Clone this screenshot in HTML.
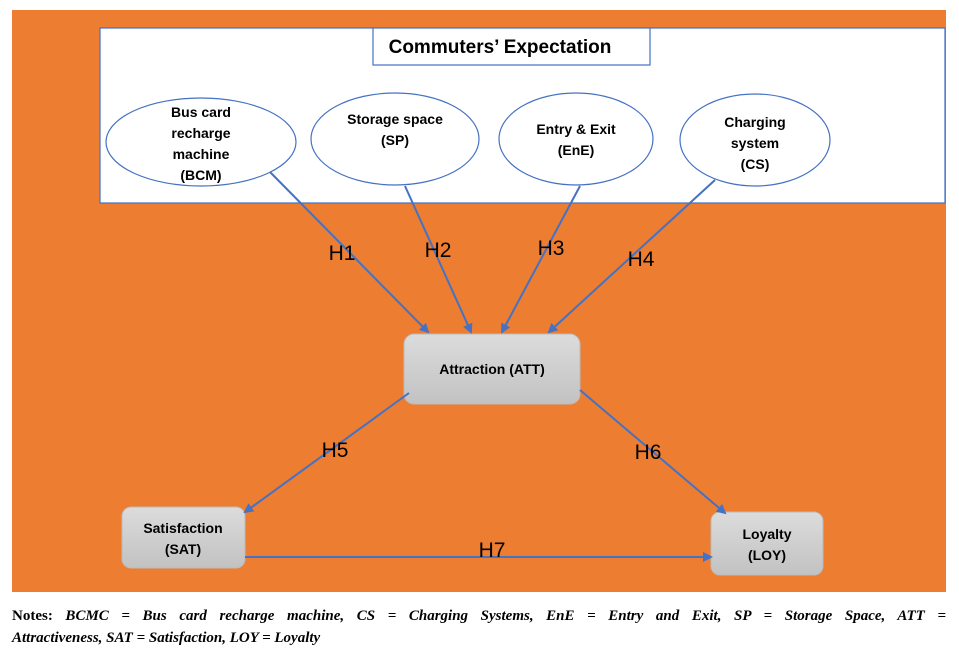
<!DOCTYPE html>
<html><head><style>
body{margin:0;width:959px;height:656px;background:#fff;position:relative;overflow:hidden}
svg{position:absolute;left:0;top:0}
.n{position:absolute;left:12px;width:934px;font-family:"Liberation Serif",serif;font-size:15px;font-style:italic;font-weight:bold;text-align:justify;text-align-last:justify;line-height:21px}
</style></head><body>
<svg width="959" height="656" font-family="Liberation Sans, DejaVu Sans, sans-serif">
<defs>
<marker id="a" markerWidth="10" markerHeight="10" refX="8" refY="5" orient="auto" markerUnits="userSpaceOnUse"><path d="M0,0 L10,5 L0,10 z" fill="#4472c4"/></marker>
<linearGradient id="g" x1="0" y1="0" x2="0" y2="1"><stop offset="0" stop-color="#dcdcdc"/><stop offset="1" stop-color="#c2c2c2"/></linearGradient>
</defs>
<rect x="12" y="10" width="934" height="582" fill="#ed7d31"/>
<rect x="100" y="28" width="845" height="175" fill="#fff" stroke="#4472c4" stroke-width="1.2"/>
<rect x="373" y="28" width="277" height="37" fill="#fff" stroke="#4472c4" stroke-width="1.2"/>
<text x="500" y="53" font-size="19" font-weight="bold" text-anchor="middle">Commuters’ Expectation</text>
<g fill="#fff" stroke="#4472c4" stroke-width="1.2">
<ellipse cx="201" cy="142" rx="95" ry="44"/>
<ellipse cx="395" cy="139" rx="84" ry="46"/>
<ellipse cx="576" cy="139" rx="77" ry="46"/>
<ellipse cx="755" cy="140" rx="75" ry="46"/>
</g>
<g font-size="14" font-weight="bold" text-anchor="middle">
<text x="201" y="117">Bus card</text><text x="201" y="138">recharge</text><text x="201" y="159">machine</text><text x="201" y="180">(BCM)</text>
<text x="395" y="124">Storage space</text><text x="395" y="145">(SP)</text>
<text x="576" y="134">Entry &amp; Exit</text><text x="576" y="155">(EnE)</text>
<text x="755" y="127">Charging</text><text x="755" y="148">system</text><text x="755" y="169">(CS)</text>
</g>
<rect x="404" y="334" width="176" height="70" rx="10" fill="url(#g)" stroke="#bbb"/>
<rect x="122" y="507" width="123" height="61" rx="9" fill="url(#g)" stroke="#bbb"/>
<rect x="711" y="512" width="112" height="63" rx="9" fill="url(#g)" stroke="#bbb"/>
<g font-size="14" font-weight="bold" text-anchor="middle">
<text x="492" y="374">Attraction (ATT)</text>
<text x="183" y="533">Satisfaction</text><text x="183" y="554">(SAT)</text>
<text x="767" y="539">Loyalty</text><text x="767" y="560">(LOY)</text>
</g>
<g stroke="#4472c4" stroke-width="2" marker-end="url(#a)">
<line x1="270" y1="172" x2="428" y2="332"/>
<line x1="405" y1="186" x2="471" y2="332"/>
<line x1="580" y1="186" x2="502" y2="332"/>
<line x1="715" y1="180" x2="549" y2="332"/>
<line x1="409" y1="393" x2="245" y2="512"/>
<line x1="580" y1="390" x2="725" y2="513"/>
<line x1="245" y1="557" x2="711" y2="557"/>
</g>
<g font-size="21" text-anchor="middle">
<text x="342" y="260">H1</text><text x="438" y="257">H2</text><text x="551" y="255">H3</text><text x="641" y="266">H4</text>
<text x="335" y="457">H5</text><text x="648" y="459">H6</text><text x="492" y="557">H7</text>
</g>
</svg>
<div class="n" style="top:606px"><span style="font-style:normal">Notes:</span> BCMC = Bus card recharge machine, CS = Charging Systems, EnE = Entry and Exit, SP = Storage Space, ATT =</div>
<div class="n" style="top:628px;text-align-last:left">Attractiveness, SAT = Satisfaction, LOY = Loyalty</div>
</body></html>
